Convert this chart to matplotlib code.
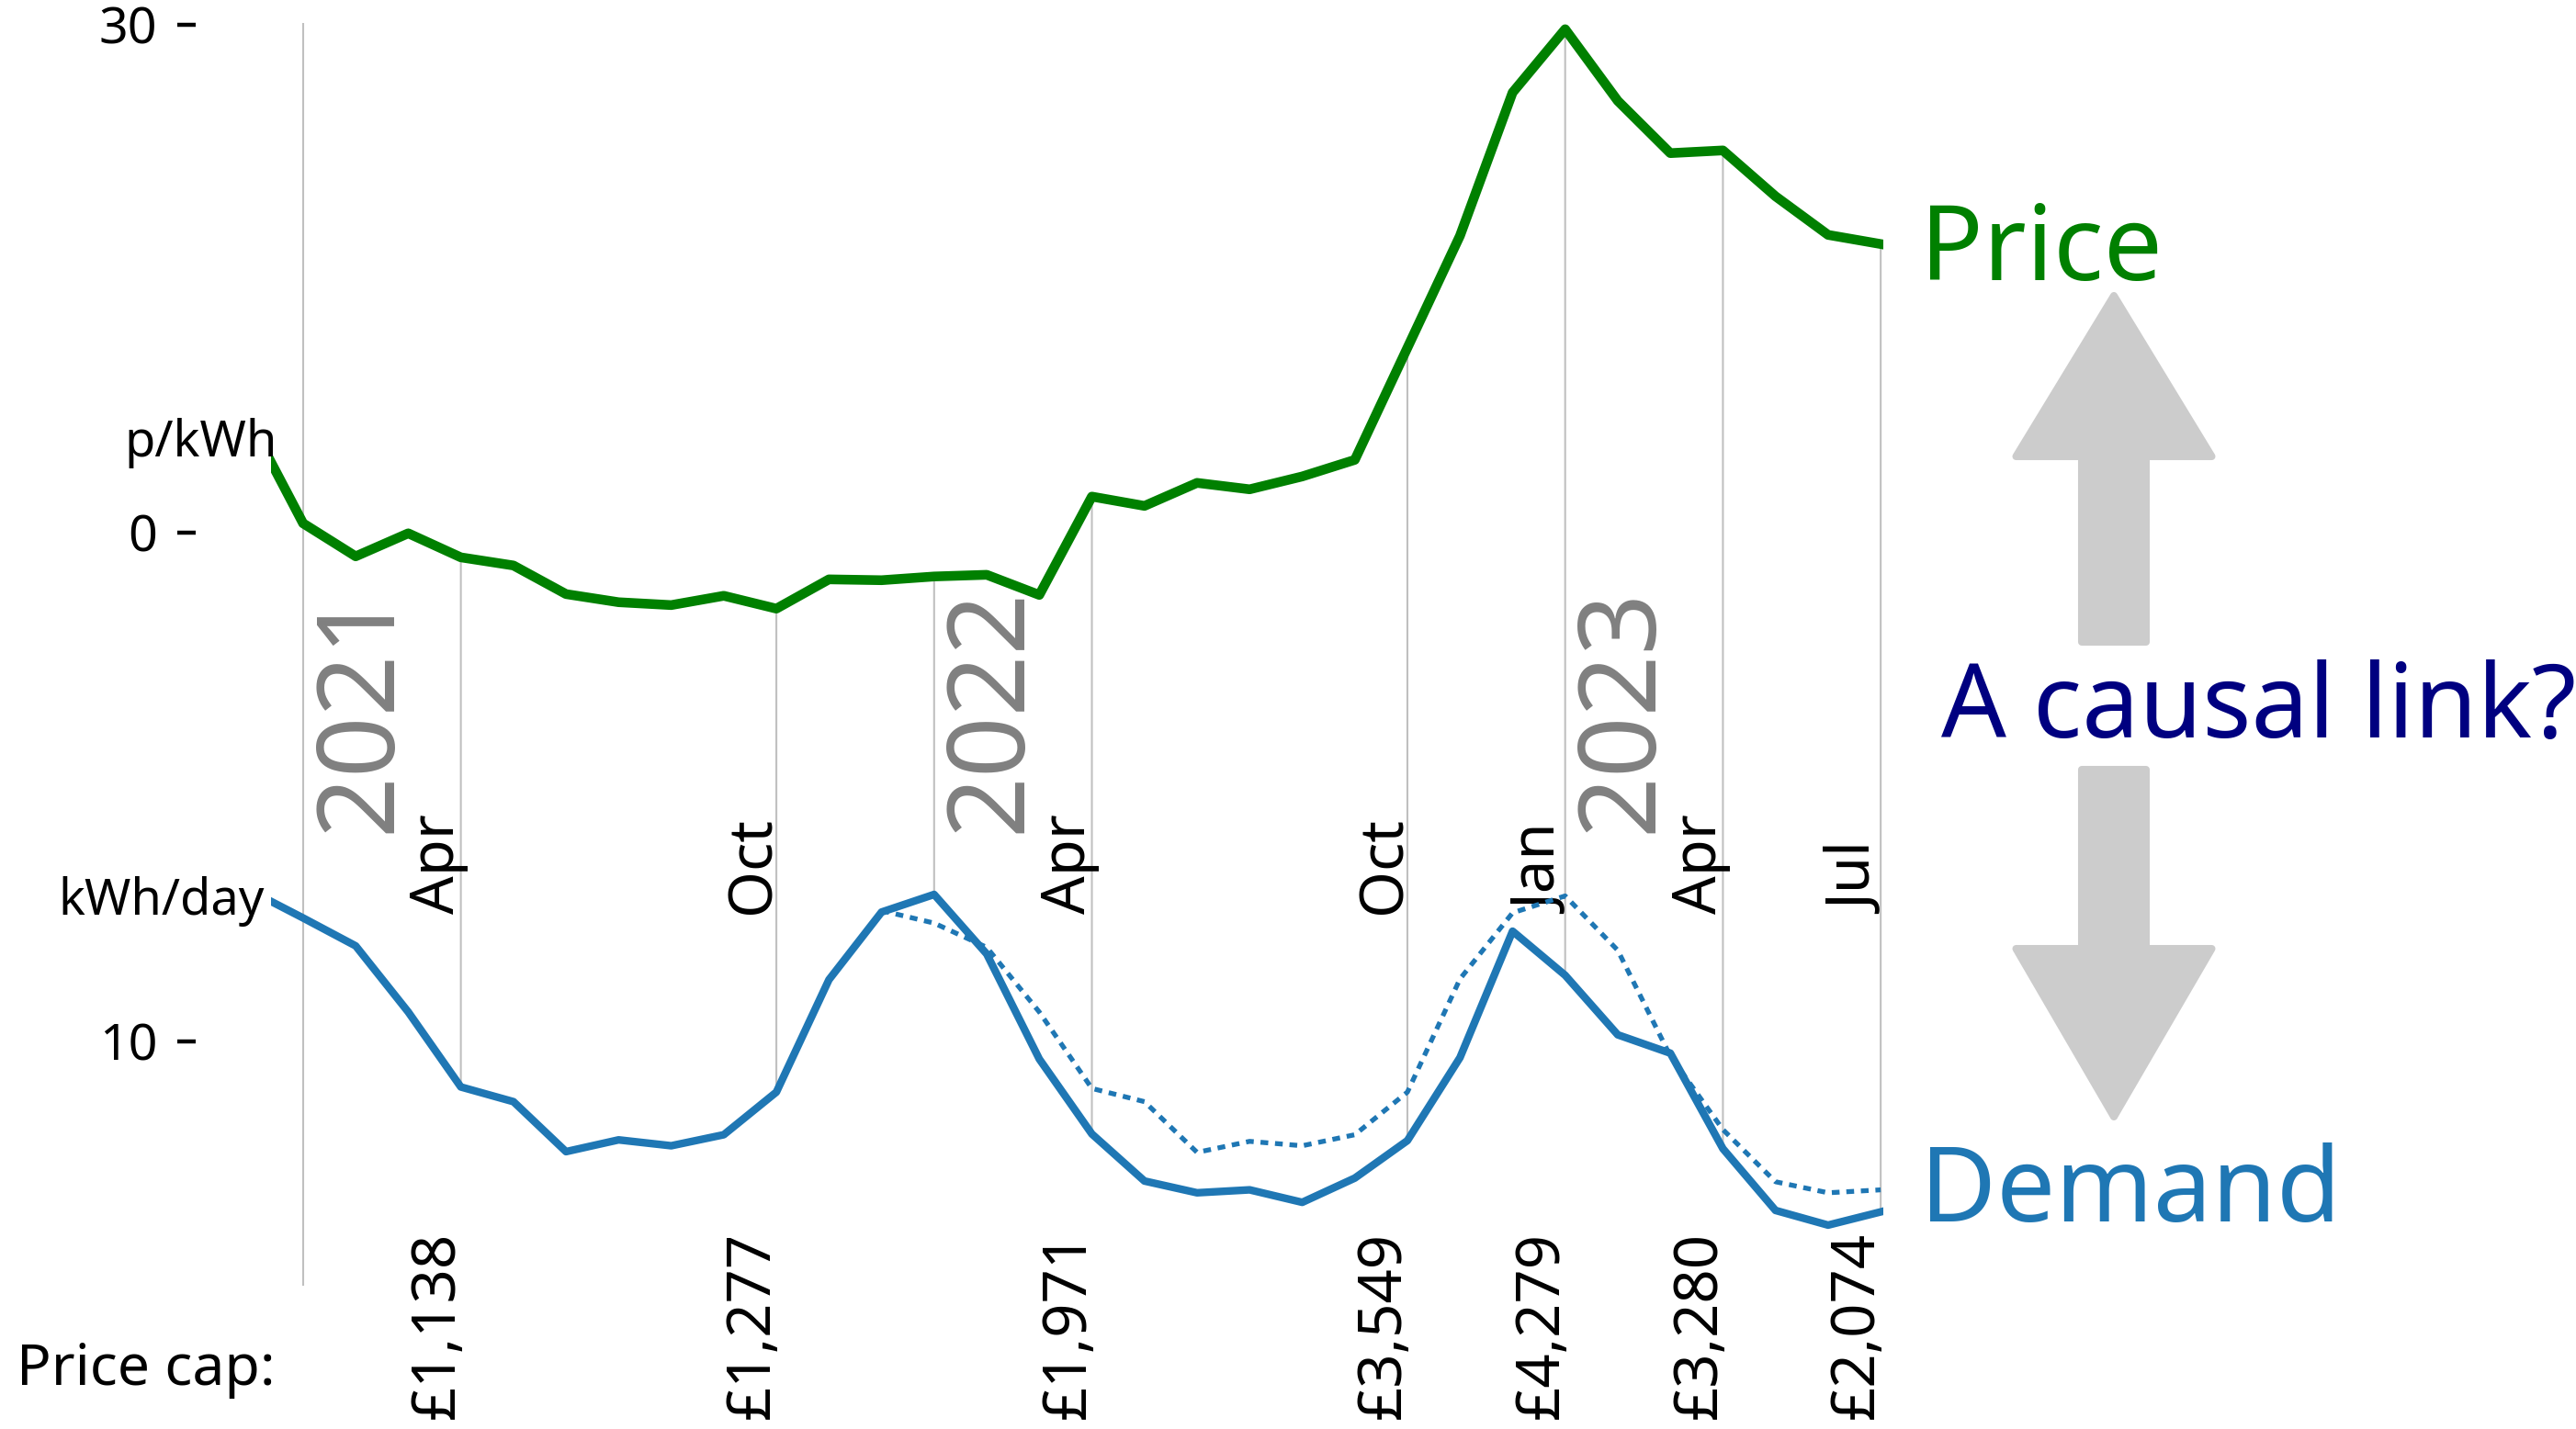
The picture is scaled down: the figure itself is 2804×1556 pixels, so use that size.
import matplotlib
matplotlib.use("Agg")
import matplotlib.pyplot as plt
import matplotlib.transforms as mtransforms
from matplotlib.patches import ConnectionPatch, FancyArrow

W, H = 2804, 1556

# months counted from Jan 2021 (= 0), Dec 2020 = -1
months = list(range(-1, 31))
# unit price, p/kWh
price = [6.46, 0.54, -1.41, -0.05, -1.47, -1.95, -3.64, -4.12, -4.29, -3.74, -4.50, -2.77, -2.82,
         -2.60, -2.50, -3.69, 2.12, 1.57, 2.93, 2.55, 3.31, 4.29, 10.91, 17.53, 25.99,
         29.73, 25.50, 22.41, 22.57, 19.86, 17.58, 17.04]
# demand, kWh/day
demand = [12.05, 11.68, 11.30, 10.40, 9.38, 9.18, 8.50, 8.66, 8.58, 8.73, 9.31, 10.84, 11.76,
          12.00, 11.19, 9.76, 8.74, 8.10, 7.94, 7.98, 7.81, 8.14, 8.65, 9.78, 11.50,
          10.90, 10.09, 9.84, 8.54, 7.70, 7.50, 7.68]
# same month one year earlier (dotted)
prev_months = list(range(11, 31))
demand_prev = [11.78, 11.61, 11.28, 10.40, 9.36, 9.18, 8.49, 8.64, 8.58, 8.73, 9.31, 10.85,
               11.75, 11.98, 11.24, 9.80, 8.80, 8.09, 7.94, 7.98]

cap_months = [3, 9, 15, 21, 24, 27, 30]
cap_month_names = ['Apr', 'Oct', 'Apr', 'Oct', 'Jan', 'Apr', 'Jul']
cap_values = ['£1,138', '£1,277', '£1,971', '£3,549', '£4,279', '£3,280', '£2,074']
link_months = [3, 9, 12, 15, 21, 24, 27, 30]
year_months = [0, 12, 24]
year_labels = ['2021', '2022', '2023']

plt.rcParams['font.family'] = ['Noto Sans', 'DejaVu Sans']

fig = plt.figure(figsize=(W / 100, H / 100), dpi=100)
ax = fig.add_axes([295 / W, 1 - 1400 / H, 1755 / W, 1375 / H])
ax2 = ax.twinx()

ax.set_xlim(-0.61, 30.05)
ax.set_ylim(-44.5, 30.1)
ax2.set_ylim(6.675, 23.86)

ax.plot(months, price, color='green', lw=7.6, zorder=3)
ax2.plot(months, demand, color='#1f77b4', lw=6.0, zorder=3)
ax2.plot(prev_months, demand_prev, color='#1f77b4', lw=3.8, ls=(0, (1.6, 1.4)), zorder=2)

# grey drop lines between price and demand
grid_col = '#c0c0c0'
ax.axvline(0, color=grid_col, lw=1.5, zorder=0)
for m in link_months:
    i = months.index(m)
    cp = ConnectionPatch(xyA=(m, price[i]), coordsA=ax.transData,
                         xyB=(m, demand[i]), coordsB=ax2.transData,
                         color=grid_col, lw=1.5, zorder=0)
    ax.add_artist(cp)

# axes styling
ax.set_xticks([])
ax.set_yticks([0, 30])
ax2.set_yticks([10])
ax2.yaxis.tick_left()
for a in (ax, ax2):
    for s in a.spines.values():
        s.set_visible(False)
    a.spines['left'].set_position(('outward', 59))
    a.tick_params(axis='y', length=14.4, width=3.2, pad=15.8, labelsize=40, direction='out')

# pixel coordinates, y measured from the top
pix = mtransforms.Affine2D().scale(1 / W, -1 / H).translate(0, 1) + fig.transFigure
mix = mtransforms.blended_transform_factory(ax.transData, pix)

for m, name in zip(cap_months, cap_month_names):
    tr = mtransforms.offset_copy(mix, fig=fig, x=-7.5, units='dots')
    ax.text(m, 995, name, transform=tr, rotation=90, rotation_mode='anchor',
            ha='left', va='baseline', fontsize=47)

for m, val in zip(cap_months, cap_values):
    tr = mtransforms.offset_copy(mix, fig=fig, x=-8, units='dots')
    ax.text(m, 1545, val, transform=tr, rotation=90, rotation_mode='anchor',
            ha='left', va='baseline', fontsize=47, clip_on=False)

for m, yr in zip(year_months, year_labels):
    tr = mtransforms.offset_copy(mix, fig=fig, x=94, units='dots')
    ax.text(m, 907, yr, transform=tr, rotation=90, rotation_mode='anchor',
            ha='left', va='baseline', fontsize=84, color='#808080', fontweight='light')

fig.text(302, 497, 'p/kWh', transform=pix, ha='right', va='baseline', fontsize=39)
fig.text(288, 996, 'kWh/day', transform=pix, ha='right', va='baseline', fontsize=39)
fig.text(18, 1508, 'Price cap:', transform=pix, ha='left', va='baseline', fontsize=45)

fig.text(2090, 305, 'Price', transform=pix, ha='left', va='baseline', fontsize=82, color='green')
fig.text(2090, 1330, 'Demand', transform=pix, ha='left', va='baseline', fontsize=82, color='#1f77b4')
fig.text(2113, 803, 'A causal link?', transform=pix, ha='left', va='baseline', fontsize=80,
         color='#000080')

arrow_col = '#cccccc'
up = FancyArrow(2301, 699, 0, -(699 - 322), width=70, head_width=213, head_length=175,
                length_includes_head=True, transform=pix, facecolor=arrow_col,
                edgecolor=arrow_col, lw=5.8, joinstyle='round')
down = FancyArrow(2301, 838, 0, 1216 - 838, width=70, head_width=213, head_length=183,
                  length_includes_head=True, transform=pix, facecolor=arrow_col,
                  edgecolor=arrow_col, lw=5.8, joinstyle='round')
fig.add_artist(up)
fig.add_artist(down)

fig.savefig('out.png', dpi=100)
